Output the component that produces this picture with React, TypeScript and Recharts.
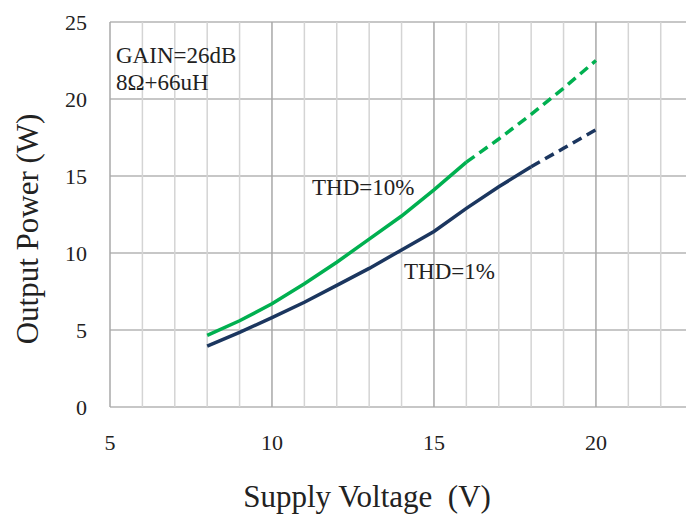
import { LineChart, Line, XAxis, YAxis, CartesianGrid, ReferenceLine } from 'recharts';

// Supply voltage (V) points along the curves
const volts = [8, 9, 10, 11, 12, 13, 14, 15, 16, 17, 18, 19, 20];
// Output power (W) at THD=10%
const thd10 = [4.65, 5.6, 6.7, 8.0, 9.4, 10.9, 12.4, 14.1, 15.9, 17.4, 19.0, 20.7, 22.5];
// Output power (W) at THD=1%
const thd1 = [3.95, 4.85, 5.8, 6.8, 7.9, 9.0, 10.2, 11.4, 12.9, 14.3, 15.6, 16.8, 18.0];

// where the measured (solid) part ends and the dashed extrapolation starts
const thd10Break = 16;
const thd1Break = 18;

const xTicks = [5, 10, 15, 20];
const yTicks = [0, 5, 10, 15, 20, 25];
const minorX = [6, 7, 8, 9, 11, 12, 13, 14, 16, 17, 18, 19, 21, 22];
const majorX = [5, 10, 15, 20];

const GREEN = '#00B050';
const NAVY = '#1B365F';
const SERIF = '"Liberation Serif", "Times New Roman", serif';

const data = volts.map((v, i) => ({
  v,
  thd10Solid: v <= thd10Break ? thd10[i] : null,
  thd10Dash: v >= thd10Break ? thd10[i] : null,
  thd1Solid: v <= thd1Break ? thd1[i] : null,
  thd1Dash: v >= thd1Break ? thd1[i] : null,
}));

const tickStyle = { fontFamily: SERIF, fontSize: 22, fill: '#222' };

export default function App() {
  return (
    <div style={{ position: 'absolute', left: 0, top: 0, width: 686, height: 520, background: '#fff' }}>
      <LineChart width={686} height={520} data={data} margin={{ top: 22, right: 0, left: 0, bottom: 63 }}>
        {minorX.map((x) => (
          <ReferenceLine key={'m' + x} x={x} stroke="#D4D4D4" strokeWidth={1.5} />
        ))}
        <CartesianGrid vertical={false} stroke="#B4B4B4" strokeWidth={1.5} />
        {majorX.map((x) => (
          <ReferenceLine key={'M' + x} x={x} stroke="#A8A8A8" strokeWidth={1.5} />
        ))}
        <XAxis
          dataKey="v"
          type="number"
          domain={[5, 22.78]}
          ticks={xTicks}
          allowDataOverflow
          height={50}
          tickSize={0}
          tickMargin={27}
          axisLine={false}
          tickLine={false}
          tick={tickStyle}
        />
        <YAxis
          domain={[0, 25]}
          ticks={yTicks}
          width={110}
          tickSize={0}
          tickMargin={23}
          axisLine={false}
          tickLine={false}
          tick={tickStyle}
        />
        <Line type="linear" dataKey="thd10Solid" stroke={GREEN} strokeWidth={3.5} dot={false} isAnimationActive={false} />
        <Line type="linear" dataKey="thd10Dash" stroke={GREEN} strokeWidth={3.5} strokeDasharray="10 6" dot={false} isAnimationActive={false} />
        <Line type="linear" dataKey="thd1Solid" stroke={NAVY} strokeWidth={3.5} dot={false} isAnimationActive={false} />
        <Line type="linear" dataKey="thd1Dash" stroke={NAVY} strokeWidth={3.5} strokeDasharray="10 6" dot={false} isAnimationActive={false} />
      </LineChart>
      <svg width={686} height={520} style={{ position: 'absolute', left: 0, top: 0, pointerEvents: 'none' }}>
        <g fontFamily={SERIF} fill="#222">
          <text x={116} y={63} fontSize={23}>GAIN=26dB</text>
          <text x={116} y={90} fontSize={23}>8Ω+66uH</text>
          <text x={312} y={195} fontSize={23}>THD=10%</text>
          <text x={404} y={279} fontSize={23}>THD=1%</text>
          <text x={367} y={507} fontSize={31} textAnchor="middle">{'Supply Voltage\u00A0 (V)'}</text>
          <text x={38} y={229} fontSize={31} textAnchor="middle" transform="rotate(-90 38 229)">Output Power (W)</text>
        </g>
      </svg>
    </div>
  );
}
